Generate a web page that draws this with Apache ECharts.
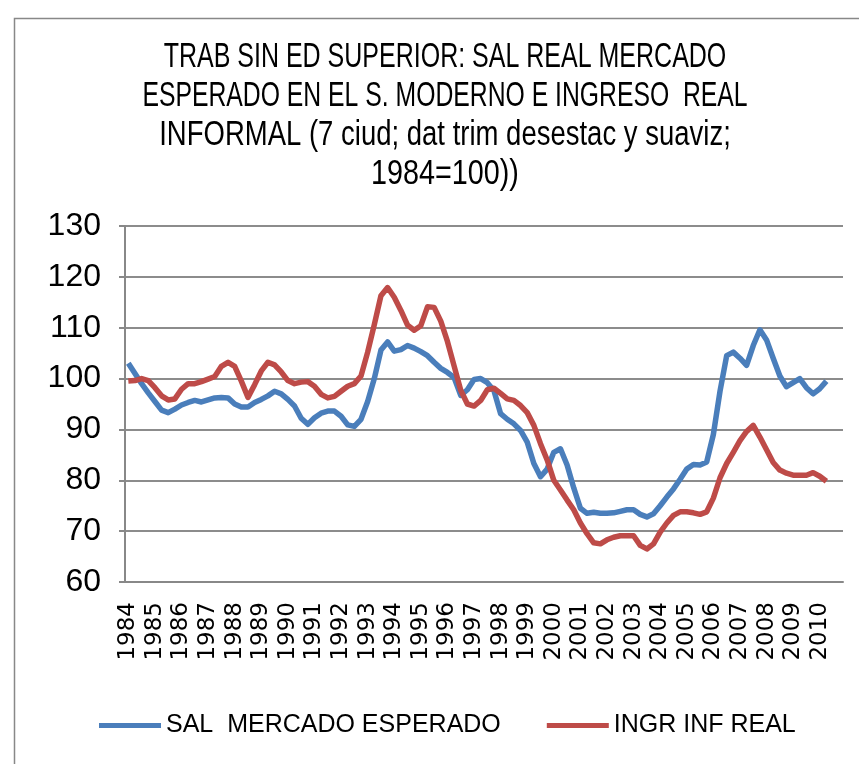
<!DOCTYPE html>
<html>
<head>
<meta charset="utf-8">
<script src="https://cdn.jsdelivr.net/npm/echarts@6/dist/echarts.min.js"></script>
<style>
  html, body { margin: 0; padding: 0; background: #fff; }
  #main { width: 859px; height: 764px; }
</style>
</head>
<body>
<div id="main"></div>
<script>
// años y trimestres (1984 I - 2010 IV)
const years = [];
for (let y = 1984; y <= 2010; y++) years.push(String(y));
const quarters = [];
years.forEach(y => { ['I', 'II', 'III', 'IV'].forEach(q => quarters.push(y + ' ' + q)); });

// SAL MERCADO ESPERADO
const salMercado = [
  103, 101, 99, 97.2, 95.5, 93.8, 93.3, 94.0,
  94.8, 95.3, 95.7, 95.4, 95.8, 96.2, 96.3, 96.2,
  95.0, 94.4, 94.4, 95.3, 95.9, 96.6, 97.5, 97.0,
  95.9, 94.6, 92.2, 91.0, 92.3, 93.2, 93.6, 93.6,
  92.6, 90.9, 90.6, 92.0, 95.5, 100.0, 105.6, 107.2,
  105.4, 105.7, 106.5, 106.0, 105.3, 104.5, 103.2, 102.0,
  101.2, 100.2, 96.7, 97.8, 99.8, 100.0, 99.2, 97.6,
  93.1, 92.0, 91.1, 89.8, 87.5, 83.3, 80.7, 82.2,
  85.5, 86.2, 83.0, 78.5, 74.5, 73.5, 73.7, 73.5,
  73.5, 73.6, 73.9, 74.2, 74.2, 73.3, 72.8, 73.4,
  75.0, 76.7, 78.3, 80.2, 82.2, 83.1, 83.0, 83.6,
  89.0, 97.5, 104.5, 105.2, 104.0, 102.6, 106.5, 109.6,
  107.6, 104.0, 100.5, 98.4, 99.2, 100.0, 98.2, 97.0,
  98.0, 99.5
];

// INGR INF REAL
const ingrInf = [
  99.5, 99.6, 100.0, 99.6, 98.2, 96.6, 95.8, 96.0,
  97.9, 99.0, 99.0, 99.4, 99.9, 100.4, 102.4, 103.2,
  102.4, 99.5, 96.3, 98.8, 101.5, 103.2, 102.7, 101.3,
  99.6, 99.0, 99.3, 99.4, 98.5, 96.9, 96.2, 96.5,
  97.5, 98.5, 99.0, 100.5, 105.2, 110.6, 116.3, 117.9,
  116.0, 113.4, 110.5, 109.5, 110.4, 114.1, 114.0, 111.3,
  107.3, 102.5, 97.7, 95.0, 94.6, 95.7, 97.8, 98.1,
  97.1, 96.0, 95.7, 94.7, 93.3, 90.8, 87.2, 84.0,
  80.0, 78.1, 76.1, 74.2, 71.6, 69.5, 67.7, 67.5,
  68.3, 68.8, 69.1, 69.1, 69.1, 67.2, 66.5, 67.5,
  69.8, 71.6, 73.1, 73.8, 73.8, 73.6, 73.3, 73.8,
  76.5, 80.5, 83.3, 85.5, 87.8, 89.6, 90.8, 88.5,
  86.0, 83.5, 82.0, 81.4, 81.0, 81.0, 81.0, 81.5,
  80.8, 79.8
];

const yTicks = [60, 70, 80, 90, 100, 110, 120, 130];

const titleLines = [
  'TRAB SIN ED SUPERIOR: SAL REAL MERCADO',
  'ESPERADO EN EL S. MODERNO E INGRESO  REAL',
  'INFORMAL (7 ciud; dat trim desestac y suaviz;',
  '1984=100))'
];
const titleStretch = [1, 0.99, 1.1, 1.15];

const font = "'Liberation Sans', Arial, sans-serif";
const chart = echarts.init(document.getElementById('main'));

// título: fuente alta y estrecha como en el original
const titleGraphics = titleLines.map((t, i) => ({
  type: 'text',
  x: 445,
  y: 57 + i * 39,
  scaleX: titleStretch[i],
  scaleY: 1.38,
  silent: true,
  style: {
    text: t,
    x: 0, y: 0,
    align: 'center',
    verticalAlign: 'middle',
    fontFamily: font,
    fontSize: 25,
    fill: '#000'
  }
}));

chart.setOption({
  backgroundColor: '#fff',
  animation: false,
  graphic: [{
    type: 'rect',
    shape: { x: 14.5, y: 18.5, width: 900, height: 800 },
    style: { fill: 'none', stroke: '#888', lineWidth: 1.5 },
    silent: true
  }].concat(titleGraphics),
  legend: {
    top: 708,
    left: 94,
    itemWidth: 62,
    itemHeight: 5,
    itemGap: 46,
    icon: 'rect',
    textStyle: { fontFamily: font, fontSize: 25, color: '#000' },
    data: ['SAL  MERCADO ESPERADO', 'INGR INF REAL']
  },
  grid: { left: 125, top: 226, right: 16, bottom: 182 },
  xAxis: {
    type: 'category',
    data: quarters,
    boundaryGap: true,
    axisLine: { lineStyle: { color: '#888', width: 2 } },
    axisTick: { interval: 3, length: 6, lineStyle: { color: '#888', width: 2 } },
    axisLabel: {
      interval: 3,
      rotate: 90,
      margin: 20,
      fontFamily: "'DejaVu Sans', sans-serif",
      fontSize: 23,
      color: '#000',
      formatter: v => v.slice(0, 4)
    }
  },
  yAxis: {
    type: 'value',
    min: yTicks[0],
    max: yTicks[yTicks.length - 1],
    interval: 10,
    axisLine: { show: true, lineStyle: { color: '#888', width: 2 } },
    axisTick: { show: true, length: 6, lineStyle: { color: '#888', width: 2 } },
    splitLine: { lineStyle: { color: '#8c8c8c', width: 2 } },
    axisLabel: { fontFamily: font, fontSize: 32, color: '#000', margin: 24 }
  },
  series: [
    {
      name: 'SAL  MERCADO ESPERADO',
      type: 'line',
      data: salMercado,
      symbol: 'none',
      color: '#4a7ebb',
      lineStyle: { width: 5.5, color: '#4a7ebb', join: 'round' }
    },
    {
      name: 'INGR INF REAL',
      type: 'line',
      data: ingrInf,
      symbol: 'none',
      color: '#be4b48',
      lineStyle: { width: 5.5, color: '#be4b48', join: 'round' }
    }
  ]
});
</script>
</body>
</html>
